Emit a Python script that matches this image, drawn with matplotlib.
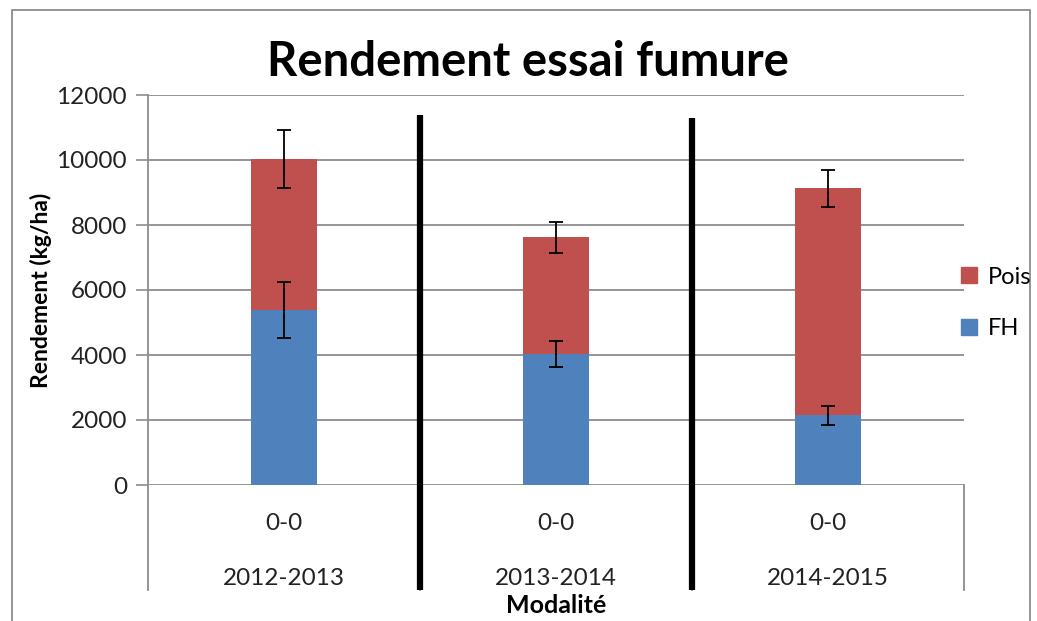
import numpy as np
import matplotlib.pyplot as plt
from matplotlib.patches import Rectangle, Patch

# ==========================================
# données
# ==========================================
annees = ["2012-2013", "2013-2014", "2014-2015"]
modalites = ["0-0", "0-0", "0-0"]
fh = [5390, 4030, 2140]
pois = [4640, 3590, 6990]
err_fh = [860, 410, 280]
err_total = [900, 480, 570]
yticks = [0, 2000, 4000, 6000, 8000, 10000, 12000]

BLEU = "#4F81BD"
ROUGE = "#C0504D"
GRIS = "#8C8C8C"

plt.rcParams["font.family"] = ["Lato", "DejaVu Sans"]

fig = plt.figure(figsize=(10.37, 6.21), dpi=100)
ax = fig.add_axes([148 / 1037, 136 / 621, 816 / 1037, 390 / 621])

x = np.arange(len(annees))
total = np.array(fh) + np.array(pois)
w = 0.246

ax.bar(x, fh, width=w, color=BLEU, label="FH", zorder=2)
ax.bar(x, pois, width=w, bottom=fh, color=ROUGE, label="Pois", zorder=2)
ax.errorbar(x, fh, yerr=err_fh, fmt="none", ecolor="black", elinewidth=1.3, capsize=5, capthick=1.3, zorder=3)
ax.errorbar(x, total, yerr=err_total, fmt="none", ecolor="black", elinewidth=1.3, capsize=5, capthick=1.3, zorder=3)

ax.set_xlim(-0.5, len(annees) - 0.5)
ax.set_ylim(0, 12000)
ax.set_yticks(yticks)
ax.set_yticklabels([str(v) for v in yticks], fontsize=17.5, color="#222222")
ax.yaxis.grid(True, color=GRIS, linewidth=1.3, zorder=0)
ax.set_axisbelow(True)
ax.tick_params(axis="y", length=9, width=1.2, color=GRIS, pad=6)
ax.set_xticks([])
for s in ["top", "right", "left", "bottom"]:
    ax.spines[s].set_visible(False)

# axe vertical et separateurs de categories (prolongés sous zéro)
bas = -3230
ax.plot([-0.5, -0.5], [12000, bas], color=GRIS, lw=1.3, clip_on=False, zorder=1)
for xs in np.arange(0.5, len(annees) + 0.5, 1):
    ax.plot([xs, xs], [0, bas], color=GRIS, lw=1.3, clip_on=False, zorder=1)

# traits noirs epais entre les annees
for xs, haut in zip([0.5, 1.5], [11380, 11290]):
    ax.plot([xs, xs], [haut, -3240], color="black", lw=4.5, clip_on=False, zorder=4,
            solid_capstyle="butt")

for i in x:
    ax.text(i, -1170, modalites[i], ha="center", va="center", fontsize=17.5, color="#222222")
    ax.text(i, -2890, annees[i], ha="center", va="center", fontsize=17.5, color="#222222")

ax.text(1, -3720, "Modalité", ha="center", va="center", fontsize=18, fontweight="bold")
ax.set_ylabel("Rendement (kg/ha)", fontsize=16.5, fontweight="bold")
ax.yaxis.set_label_coords(-0.118, 0.5)

fig.text(528 / 1037, 1 - 62 / 621, "Rendement essai fumure", ha="center", va="center",
         fontsize=34, fontweight="bold")

handles = [Patch(color=ROUGE), Patch(color=BLEU)]
fig.legend(handles, ["Pois", "FH"], loc="center left", bbox_to_anchor=(952 / 1037, 1 - 303 / 621),
           frameon=False, fontsize=17, handlelength=0.65, handleheight=0.65, labelspacing=1.3,
           handletextpad=0.45, borderaxespad=0)

# cadre du graphique
fig.patches.append(Rectangle((12 / 1037, -0.01), 1018 / 1037, 1 - 10 / 621 + 0.01,
                             transform=fig.transFigure, fill=False, edgecolor=GRIS, lw=1.3))

fig.savefig("out.png", dpi=100)
